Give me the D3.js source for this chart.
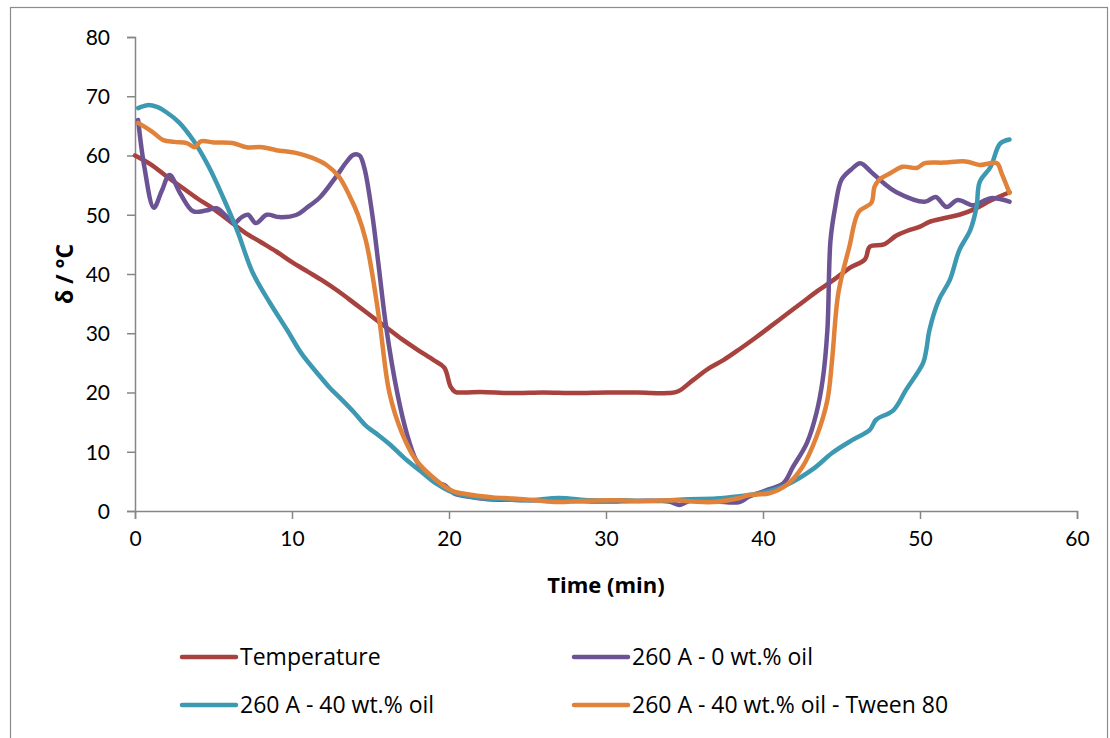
<!DOCTYPE html>
<html>
<head>
<meta charset="utf-8">
<script src="https://cdn.jsdelivr.net/npm/d3@7"></script>
<style>
  body { margin: 0; background: #fff; }
  text { font-family: "Open Sans", Lato, sans-serif; fill: #000; }
</style>
</head>
<body>
<div class="canvas"></div>
<script>
      // series values, time in minutes
      const tempT = [0, 1, 2, 3, 4, 5, 6, 7, 8, 9, 10, 11, 12, 13, 14, 15, 16, 17, 18, 19, 19.7, 20.1, 20.4, 21, 22, 24, 26, 28, 30, 32, 34, 34.6, 35.5, 36.5, 37.5, 38.5, 39.5, 40.5, 41.5, 42.5, 43.5, 44.5, 45.5, 46.5, 46.8, 47.7, 48.5, 49.2, 50, 50.6, 51.5, 52.5, 53.5, 54.5, 55.7];
      const tempV = [60, 58.5, 56.5, 54.6, 52.7, 51, 49, 47, 45.4, 43.8, 42, 40.4, 38.8, 37, 35, 33, 31, 29, 27.2, 25.5, 24.2, 21, 20.1, 20, 20.1, 19.9, 20, 19.9, 20, 20, 19.9, 20.2, 22, 24, 25.5, 27.3, 29.2, 31.2, 33.2, 35.2, 37.2, 39, 41, 42.5, 44.6, 45, 46.5, 47.3, 48, 48.8, 49.4, 50, 51, 52.4, 53.8];

      const oil0T = [0.2, 0.6, 1.2, 1.7, 2.2, 2.9, 3.7, 4.5, 5.2, 5.8, 6.3, 6.8, 7.2, 7.7, 8.4, 9.2, 10.3, 10.9, 11.8, 12.8, 13.5, 13.9, 14.3, 14.6, 15.1, 15.5, 16, 16.7, 17.3, 17.9, 18.6, 19.2, 19.7, 20.3, 21.3, 22.5, 24, 26, 28, 30, 32, 34, 34.7, 35.3, 37, 38.5, 39.1, 40.2, 41.3, 41.9, 42.8, 43.4, 43.8, 44.1, 44.3, 44.6, 45, 45.6, 46.2, 46.9, 47.7, 48.5, 50.3, 51, 51.7, 52.4, 53.4, 54.5, 55.7];
      const oil0V = [66, 58, 51.2, 54, 56.7, 53.5, 50.6, 50.7, 51.1, 49.8, 48.6, 49.6, 50, 48.6, 50, 49.6, 50, 51.1, 53, 56.4, 59, 60.1, 60, 58, 50.3, 41.8, 31, 20, 13.2, 8.6, 6, 4.7, 4.4, 3, 2.4, 2, 1.9, 1.8, 1.7, 1.6, 1.7, 1.6, 1, 1.7, 1.6, 1.5, 2.4, 3.5, 4.7, 7.4, 11.5, 16.5, 22.1, 30.5, 45.7, 51.3, 55.9, 57.6, 58.7, 57.2, 55.3, 53.8, 52.2, 53, 51.3, 52.5, 51.6, 52.8, 52.2];

      const oil40T = [0.2, 0.8, 1.4, 2, 2.8, 3.7, 4.7, 5.6, 6.5, 7.5, 8.6, 9.7, 10.6, 11.6, 12.4, 13.2, 14, 14.7, 15.5, 16.2, 17.3, 18.2, 19.2, 20, 21, 22, 23.5, 25, 27, 29, 31, 33, 35.3, 37, 38.5, 39.8, 41.5, 43.2, 44.4, 45.7, 46.8, 47.2, 48.3, 49.1, 50.2, 50.4, 50.6, 51.2, 51.9, 52.5, 53.2, 53.6, 53.8, 54.5, 55.1, 55.7];
      const oil40V = [68, 68.5, 68.2, 67.3, 65.6, 62.6, 58.1, 53, 47.4, 40.2, 35.1, 30.5, 26.6, 23.3, 20.8, 18.7, 16.5, 14.4, 12.8, 11.3, 8.6, 6.7, 4.6, 3.4, 2.6, 2.2, 2, 1.8, 2.2, 1.8, 1.8, 1.7, 2, 2.1, 2.5, 3, 4.4, 7.1, 9.8, 12, 13.7, 15.4, 17, 20.4, 25, 27.2, 30.5, 35.6, 39, 44, 47.4, 51.3, 55.5, 58.1, 62, 62.7];

      const tweenT = [0.2, 1.1, 1.8, 2.5, 3.3, 3.8, 4.2, 5, 6.2, 7.1, 8.1, 9, 10.3, 11.3, 12.2, 13, 13.7, 14.2, 14.7, 15.1, 15.6, 16.2, 17, 17.9, 19.2, 20.2, 21.5, 22.8, 24.1, 25.5, 26.9, 28.5, 30.4, 32.5, 34.5, 35.5, 36.8, 38.5, 39.1, 40.4, 41.5, 42.5, 43.4, 44.1, 44.4, 44.8, 45.5, 46.1, 46.9, 47.1, 47.4, 48.1, 48.9, 49.8, 50.3, 51.5, 52.9, 53.8, 54.9, 55.2, 55.7];
      const tweenV = [65.5, 64, 62.6, 62.3, 62.1, 61.4, 62.4, 62.2, 62.1, 61.4, 61.4, 60.9, 60.4, 59.6, 58.4, 56.4, 53, 50, 45.7, 40.2, 31.5, 20, 13.2, 8.6, 5.2, 3.4, 2.7, 2.3, 2.1, 1.8, 1.5, 1.7, 1.8, 1.7, 1.8, 1.6, 1.5, 2.2, 2.7, 3, 4.4, 7.4, 12.5, 18.7, 25.5, 36.8, 44.6, 50.5, 52, 54.7, 55.9, 57, 58.1, 57.9, 58.7, 58.8, 59, 58.4, 58.7, 57, 53.7];

      const seriesNames = ['Temperature', '260 A - 0 wt.% oil', '260 A - 40 wt.% oil', '260 A - 40 wt.% oil - Tween 80'];
      const seriesColors = ['#A8423F', '#6C5494', '#3D99B1', '#E1823A'];
      const xTicks = [0, 10, 20, 30, 40, 50, 60];
      const yTicks = [0, 10, 20, 30, 40, 50, 60, 70, 80];

      const series = [
        { name: seriesNames[0], color: seriesColors[0], t: tempT, v: tempV },
        { name: seriesNames[1], color: seriesColors[1], t: oil0T, v: oil0V },
        { name: seriesNames[2], color: seriesColors[2], t: oil40T, v: oil40V },
        { name: seriesNames[3], color: seriesColors[3], t: tweenT, v: tweenV }
      ];

      const margin = { top: 37, right: 33, bottom: 227, left: 135 };
      const width = 1110, height = 738;
      const graphwidth = width - margin.left - margin.right;
      const graphheight = height - margin.top - margin.bottom;

      const svg = d3.select('.canvas')
        .append('svg')
        .attr('width', width)
        .attr('height', height);

      // outer chart frame
      svg.append('rect')
        .attr('x', 10.5).attr('y', 7.5)
        .attr('width', 1097).attr('height', 740)
        .attr('fill', 'none')
        .attr('stroke', '#8c8c8c')
        .attr('stroke-width', 1.2);

      const graph = svg.append('g')
        .attr('transform', `translate(${margin.left}, ${margin.top})`);

      // scales
      const x = d3.scaleLinear().domain([0, 60]).range([0, graphwidth]);
      const y = d3.scaleLinear().domain([0, 80]).range([graphheight, 0]);

      // axes
      const xAxis = d3.axisBottom(x).tickValues(xTicks).tickSize(8).tickPadding(12);
      const yAxis = d3.axisLeft(y).tickValues(yTicks).tickSize(8).tickPadding(17);

      const xaxisGroup = graph.append('g')
        .attr('transform', `translate(0, ${graphheight})`)
        .call(xAxis);
      const yaxisGroup = graph.append('g').call(yAxis);

      [xaxisGroup, yaxisGroup].forEach(g => {
        g.select('.domain').attr('stroke', '#868686').attr('stroke-width', 1.5);
        g.selectAll('.tick line').attr('stroke', '#868686').attr('stroke-width', 1.5);
        g.selectAll('.tick text')
          .style('font-family', 'Lato, sans-serif')
          .style('font-size', '21px')
          .attr('fill', '#000');
      });
      yaxisGroup.selectAll('.tick text').attr('dy', '0.35em');

      // lines
      const line = d3.line()
        .curve(d3.curveCatmullRom.alpha(0.5))
        .x(d => x(d[0]))
        .y(d => y(d[1]));

      graph.selectAll('path.series')
        .data(series)
        .enter()
        .append('path')
          .attr('class', 'series')
          .attr('fill', 'none')
          .attr('stroke', d => d.color)
          .attr('stroke-width', 4.5)
          .attr('stroke-linejoin', 'round')
          .attr('stroke-linecap', 'round')
          .attr('d', d => line(d.t.map((t, i) => [t, d.v[i]])));

      // axis titles
      svg.append('text')
        .attr('x', margin.left + graphwidth / 2)
        .attr('y', 593)
        .attr('text-anchor', 'middle')
        .style('font-size', '22px')
        .style('font-weight', 'bold')
        .text('Time (min)');

      svg.append('text')
        .attr('transform', `translate(73, ${margin.top + graphheight / 2}) rotate(-90)`)
        .attr('text-anchor', 'middle')
        .style('font-size', '23px')
        .style('font-weight', 'bold')
        .text('δ / °C');

      // legend, two columns
      const legendPos = [[182, 657], [574, 657], [182, 705], [574, 705]];
      const legend = svg.selectAll('g.legend')
        .data(series)
        .enter()
        .append('g')
          .attr('class', 'legend')
          .attr('transform', (d, i) => `translate(${legendPos[i][0]}, ${legendPos[i][1]})`);

      legend.append('line')
        .attr('x1', 0).attr('x2', 54)
        .attr('y1', 0).attr('y2', 0)
        .attr('stroke', d => d.color)
        .attr('stroke-width', 4.5)
        .attr('stroke-linecap', 'round');

      legend.append('text')
        .attr('x', 58)
        .attr('dy', '0.36em')
        .style('font-size', '23px')
        .text(d => d.name);
</script>
</body>
</html>
